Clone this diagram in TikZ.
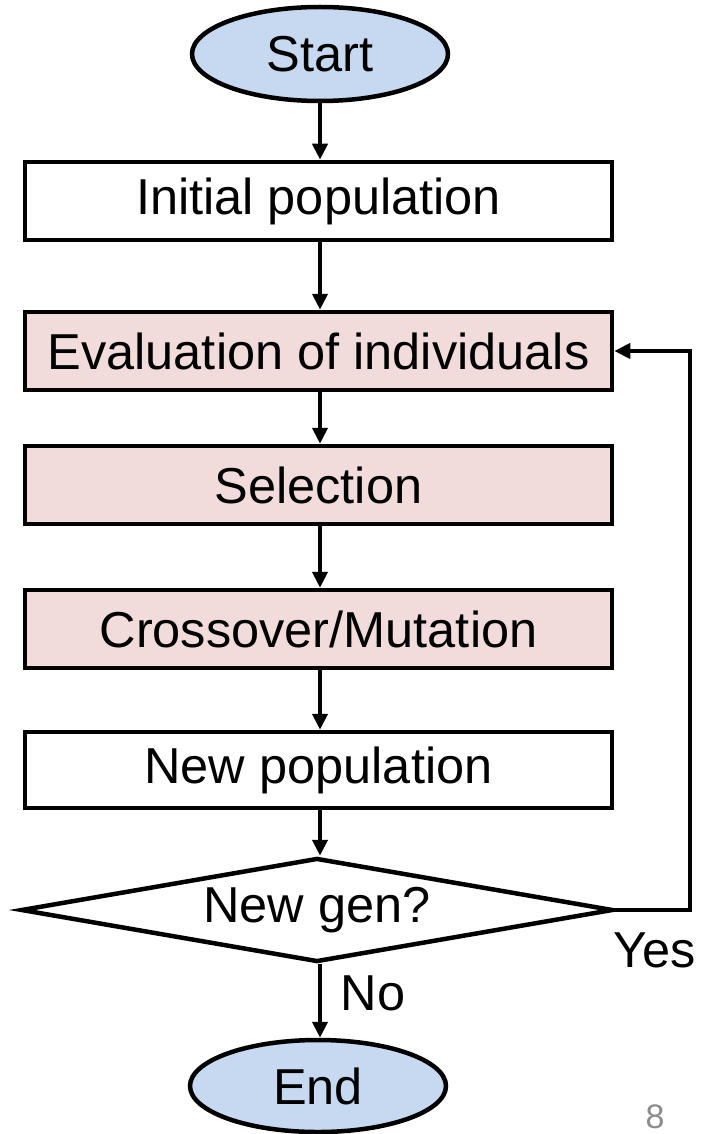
\documentclass[tikz,border=0pt]{standalone}
\usepackage{fontspec}
\setmainfont{Liberation Sans}
\usetikzlibrary{shapes.geometric,arrows.meta}
\definecolor{termblue}{HTML}{C6D9F0}
\definecolor{procpink}{HTML}{F2DCDB}
\begin{document}
\begin{tikzpicture}[x=1pt,y=1pt,
  every node/.style={font=\fontsize{50.5}{55}\selectfont},
  box/.style={draw,line width=4.5pt,rectangle,minimum width=587pt,minimum height=78pt,inner sep=0pt,fill=white},
  pbox/.style={box,fill=procpink},
  term/.style={draw,ellipse,line width=4.5pt,fill=termblue,minimum width=256pt,minimum height=94pt,inner sep=0pt},
  decision/.style={draw,diamond,line width=4.5pt,fill=white,minimum width=592pt,minimum height=104pt,aspect=5.7,inner sep=0pt},
  arr/.style={line width=4pt,-{Triangle[length=16pt,width=15pt]}},
  lbl/.style={inner sep=0pt}]
\useasboundingbox (0,0) rectangle (709,-1134);
\coordinate (ax) at (320,0);
\node[term] (start) at (320,-54) {Start};
\node[box] (init) at (318.5,-201) {Initial population};
\node[pbox] (eval) at (318.5,-351) {Evaluation of individuals};
\node[pbox] (sel) at (318.5,-485) {Selection};
\node[pbox] (cross) at (318.5,-629) {Crossover/Mutation};
\node[box,minimum height=76pt] (newpop) at (318.5,-770) {New population};
\node[decision] (dia) at (317,-910) {New gen?};
\node[term,minimum height=92pt] (end) at (318,-1086) {End};
\coordinate (fb) at (690,-910);
\draw[arr] (start.south) -- (init.north -| ax);
\draw[arr] (init.south -| ax) -- (eval.north -| ax);
\draw[arr] (eval.south -| ax) -- (sel.north -| ax);
\draw[arr] (sel.south -| ax) -- (cross.north -| ax);
\draw[arr] (cross.south -| ax) -- (newpop.north -| ax);
\draw[arr] (newpop.south -| ax) -- (dia.north -| ax);
\draw[arr] (dia.south -| ax) -- (end.north -| ax);
\draw[arr] (dia.east) -- (fb) |- (eval.east);
\node[lbl] (yes) at (655,-950) {Yes};
\node[lbl] (no) at (373,-993) {No};
\node[lbl,anchor=base,text=black!45,font=\fontsize{34}{38}\selectfont] (pg) at (655,-1128) {8};
\end{tikzpicture}
\end{document}
